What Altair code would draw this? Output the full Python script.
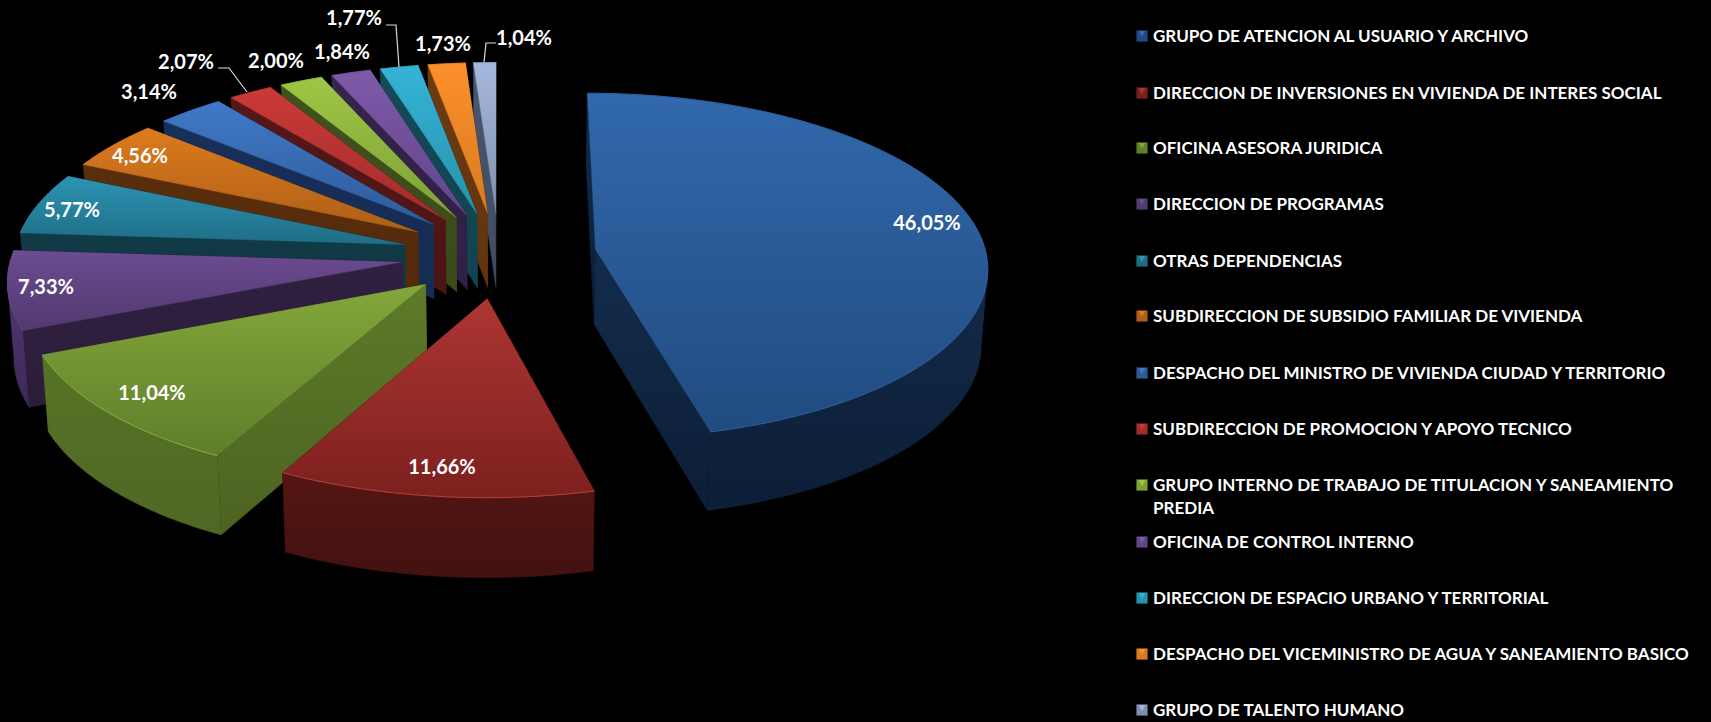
import altair as alt
import numpy as np
import pandas as pd

# Share of records per department, in percent, clockwise from twelve o'clock.
DEPARTMENTS = [
    "GRUPO DE ATENCION AL USUARIO Y ARCHIVO",
    "DIRECCION DE INVERSIONES EN VIVIENDA DE INTERES SOCIAL",
    "OFICINA ASESORA JURIDICA",
    "DIRECCION DE PROGRAMAS",
    "OTRAS DEPENDENCIAS",
    "SUBDIRECCION DE SUBSIDIO FAMILIAR DE VIVIENDA",
    "DESPACHO DEL MINISTRO DE VIVIENDA CIUDAD Y TERRITORIO",
    "SUBDIRECCION DE PROMOCION Y APOYO TECNICO",
    "GRUPO INTERNO DE TRABAJO DE TITULACION Y SANEAMIENTO\nPREDIA",
    "OFICINA DE CONTROL INTERNO",
    "DIRECCION DE ESPACIO URBANO Y TERRITORIAL",
    "DESPACHO DEL VICEMINISTRO DE AGUA Y SANEAMIENTO BASICO",
    "GRUPO DE TALENTO HUMANO",
]
VALUES = [46.05, 11.66, 11.04, 7.33, 5.77, 4.56, 3.14, 2.07, 2.00, 1.84, 1.77, 1.73, 1.04]

# Face colours: top of the slice (far, near) and its side wall (upper, lower).
TOP_FAR = ["#3169AC", "#AD3632", "#84A73A", "#6C4B92", "#2C94B5", "#DD7B1E", "#4079C8",
           "#CB3A38", "#9EC644", "#7F59A9", "#35B3D7", "#FC902B", "#A5B8DD"]
TOP_NEAR = ["#214B80", "#7C201E", "#5F7E2B", "#513A6E", "#1F6D85", "#AD5E18", "#2F5B99",
            "#A02C2C", "#7FA038", "#61468A", "#2792AC", "#D87A20", "#7E90AE"]
WALL_UP = ["#132C4C", "#5A1816", "#5E7A29", "#2F2040", "#113A47", "#592E0C", "#17305A",
           "#541817", "#40521C", "#35244B", "#134B57", "#6D3B11", "#49576E"]
WALL_LOW = ["#0D1E37", "#431110", "#4C6321", "#2B1D3A", "#0F3340", "#52290A", "#152C52",
            "#4B1514", "#3A4A19", "#2F2044", "#10434E", "#61340E", "#3F4B60"]
# The curved outer wall catches more light than the radial faces on some slices.
OUTER_UP = ["#122A48", "#541614", "#587427", "#523872", "#113A47", "#592E0C", "#17305A",
            "#541817", "#40521C", "#35244B", "#134B57", "#6D3B11", "#49576E"]
OUTER_LOW = ["#0D1E37", "#431110", "#4F6722", "#3C2856", "#0F3340", "#52290A", "#152C52",
             "#4B1514", "#3A4A19", "#2F2044", "#10434E", "#61340E", "#3F4B60"]
RIM = ["#2F5F9C", "#B8423A", "#8DB442", "#6C4B92", "#2C94B5", "#DD7B1E", "#4079C8",
       "#CB3A38", "#9EC644", "#7F59A9", "#35B3D7", "#FC902B", "#A5B8DD"]

# Value labels: anchor pixel of each percentage, same order as VALUES.
LABEL_X = [927, 442, 152, 46, 72, 140, 149, 186, 276, 342, 354, 443, 524]
LABEL_Y = [224, 468, 394, 288, 211, 157, 93, 63, 62, 53, 19, 45, 39]
LEADERS = {7: [(218, 68), (229, 68), (247, 92)],
           10: [(386, 25), (396, 25), (399, 67)],
           12: [(496, 43), (486, 43), (484, 62)]}
LEGEND_Y = [37, 94, 149, 205, 262, 317, 374, 430, 486, 543, 599, 655, 711]

# Perspective view of a pie lying flat with every slice pulled out of the centre.
CX, CY = 499, 255
SCALE_X, SCALE_Y = 391, 172
PERSPECTIVE = 0.093
EXPLODE = 0.249
DEPTH = 75
SHRINK = 0.987
W, H = 1711, 722


def project(u, v, lower=False):
    w = 1 + PERSPECTIVE * v
    x = SCALE_X * u / w
    y = -SCALE_Y * v / w
    if lower:
        x = x * SHRINK
        y = y + DEPTH / (1 + 0.05 * v)
    return CX + x, CY + y


xs = alt.X("x:Q", scale=alt.Scale(domain=[0, W], range=[0, W]), axis=None)
ys = alt.Y("y:Q", scale=alt.Scale(domain=[H, 0], range=[H, 0]), axis=None)


def vertical(c1, c2):
    return {"gradient": "linear", "x1": 0, "y1": 0, "x2": 0, "y2": 1,
            "stops": [{"offset": 0, "color": c1}, {"offset": 1, "color": c2}]}


def polygon(px, py, c1, c2):
    px, py = np.asarray(px, float), np.asarray(py, float)
    frame = pd.DataFrame({"x": px, "y": py, "i": np.arange(len(px))})
    return alt.Chart(frame).mark_line(
        fill=vertical(c1, c2), stroke=c2, strokeWidth=0.5, strokeJoin="round"
    ).encode(x=xs, y=ys, order=alt.Order("i:Q"))


layers = []
starts = np.concatenate([[0], np.cumsum(VALUES)[:-1]]) * 3.6
# Painted from the back of the pie round its left side to the front.
for k in list(range(12, 0, -1)) + [0]:
    t0 = np.radians(starts[k])
    t1 = np.radians(starts[k] + VALUES[k] * 3.6)
    mid = (t0 + t1) / 2
    ou, ov = EXPLODE * np.sin(mid), EXPLODE * np.cos(mid)
    th = np.linspace(t0, t1, 90)
    au, av = ou + np.sin(th), ov + np.cos(th)

    ax, ay = project(au, av)
    bx, by = project(au, av, lower=True)
    ox, oy = project(ou, ov)
    lx, ly = project(ou, ov, lower=True)

    # radial side faces
    layers.append(polygon([ox, ax[-1], bx[-1], lx], [oy, ay[-1], by[-1], ly], WALL_UP[k], WALL_LOW[k]))
    layers.append(polygon([ox, ax[0], bx[0], lx], [oy, ay[0], by[0], ly], WALL_UP[k], WALL_LOW[k]))
    # curved outer wall, from the silhouette point of the ellipse onwards
    front = np.cos(th) <= -0.11
    if front.sum() > 1:
        layers.append(polygon(np.r_[ax[front], bx[front][::-1]], np.r_[ay[front], by[front][::-1]],
                              OUTER_UP[k], OUTER_LOW[k]))
    # top face and its lit rim
    layers.append(polygon(np.r_[ox, ax], np.r_[oy, ay], TOP_FAR[k], TOP_NEAR[k]))
    rim = pd.DataFrame({"x": ax, "y": ay, "i": np.arange(len(ax))})
    layers.append(alt.Chart(rim).mark_line(color=RIM[k], strokeWidth=1).encode(
        x=xs, y=ys, order=alt.Order("i:Q")))

# Leader lines for the labels that sit away from their slice.
for k, pts in LEADERS.items():
    frame = pd.DataFrame({"x": [p[0] for p in pts], "y": [p[1] for p in pts], "i": range(len(pts))})
    layers.append(alt.Chart(frame).mark_line(color="#D9D9D9", strokeWidth=1.2).encode(
        x=xs, y=ys, order=alt.Order("i:Q")))

labels = pd.DataFrame({
    "x": LABEL_X, "y": LABEL_Y,
    "t": [f"{v:.2f}".replace(".", ",") + "%" for v in VALUES],
})
layers.append(alt.Chart(labels).mark_text(
    font="Lato", fontWeight="bold", fontSize=20, color="white", align="center", baseline="middle"
).encode(x=xs, y=ys, text="t:N"))

# Legend: bevelled swatch plus one or two lines of text per department.
legend_rows = []
for name, y in zip(DEPARTMENTS, LEGEND_Y):
    for n, line in enumerate(name.split("\n")):
        legend_rows.append({"x": 1153, "y": y + n * 23, "t": line})
layers.append(alt.Chart(pd.DataFrame(legend_rows)).mark_text(
    font="Lato", fontWeight="bold", fontSize=17, color="white", align="left", baseline="middle"
).encode(x=xs, y=ys, text="t:N"))

swatches = pd.DataFrame({"x": [1142] * 13, "y": [y - 1 for y in LEGEND_Y], "c": TOP_FAR, "n": TOP_NEAR})
layers.append(alt.Chart(swatches).mark_square(size=125, opacity=1).encode(
    x=xs, y=ys, color=alt.Color("n:N", scale=None)))
layers.append(alt.Chart(swatches).mark_point(
    shape="triangle-down", filled=True, size=45, opacity=1
).encode(x=xs, y=alt.Y("y2:Q", scale=alt.Scale(domain=[H, 0], range=[H, 0]), axis=None),
         color=alt.Color("c:N", scale=None)).transform_calculate(y2="datum.y - 2"))

chart = alt.layer(*layers).properties(
    width=W, height=H, background="black", padding=0,
    autosize=alt.AutoSizeParams(type="none"),
).configure_view(stroke=None)

chart.save("out.html", embed_options={"renderer": "svg", "actions": False})
